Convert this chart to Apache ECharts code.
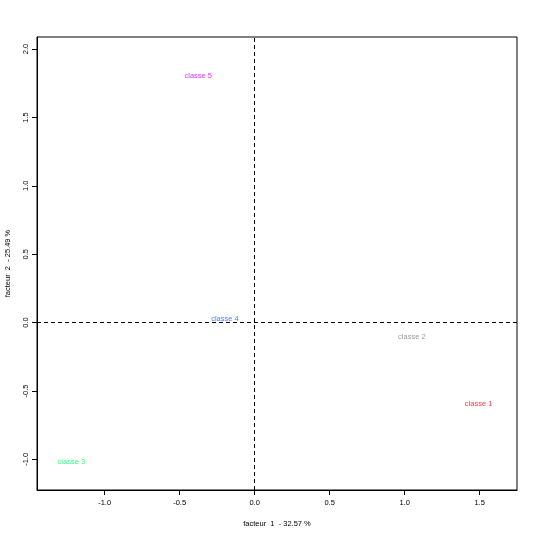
<!DOCTYPE html>
<html>
<head>
<meta charset="utf-8">
<script src="https://cdn.jsdelivr.net/npm/echarts@6/dist/echarts.min.js"></script>
<style>html,body{margin:0;padding:0;background:#fff}#c{width:537px;height:537px}</style>
</head>
<body>
<div id="c"></div>
<script>
var categories = ["classe 1", "classe 2", "classe 3", "classe 4", "classe 5"];
var factor1 = [1.493, 1.048, -1.222, -0.198, -0.376];
var factor2 = [-0.595, -0.105, -1.021, 0.027, 1.80];
var xTicks = [-1.0, -0.5, 0.0, 0.5, 1.0, 1.5];
var yTicks = [-1.0, -0.5, 0.0, 0.5, 1.0, 1.5, 2.0];
var xTitle = "facteur  1  - 32.57 %";
var yTitle = "facteur  2  - 25.49 %";

var labelColors = ["#FF0000", "#808080", "#00FF66", "#0066FF", "#CC00FF"];
var font = "Liberation Sans, Arial, sans-serif";
var fs = 7.5;

var chart = echarts.init(document.getElementById('c'), null, {renderer: 'canvas'});
var pts = categories.map(function (name, i) {
  return {
    name: name,
    value: [factor1[i], factor2[i]],
    label: {color: labelColors[i]}
  };
});
chart.setOption({
  animation: false,
  backgroundColor: '#fff',
  grid: {left: 37, right: 20, top: 37, bottom: 47, containLabel: false, outerBoundsMode: 'none',
    show: true, borderColor: '#000', borderWidth: 1, backgroundColor: 'transparent'},
  xAxis: {
    type: 'value', min: -1.451, max: 1.749,
    splitLine: {show: false},
    axisLine: {show: true, onZero: false, lineStyle: {color: '#000', width: 1}},
    axisTick: {show: true, length: 5, customValues: xTicks, lineStyle: {color: '#000'}},
    axisLabel: {customValues: xTicks, margin: 9, fontSize: fs, fontFamily: font, color: '#000',
      formatter: function (v) { return v.toFixed(1); }},
    name: xTitle, nameLocation: 'middle', nameGap: 30,
    nameTextStyle: {fontSize: fs, fontFamily: font, color: '#000'}
  },
  yAxis: {
    type: 'value', min: -1.224, max: 2.088,
    splitLine: {show: false},
    axisLine: {show: true, onZero: false, lineStyle: {color: '#000', width: 1}},
    axisTick: {show: true, length: 5, customValues: yTicks, lineStyle: {color: '#000'}},
    axisLabel: {customValues: yTicks, rotate: 90, margin: 7, fontSize: fs, fontFamily: font, color: '#000',
      formatter: function (v) { return v.toFixed(1); }},
    name: yTitle, nameLocation: 'middle', nameGap: 25, nameRotate: 90,
    nameTextStyle: {fontSize: fs, fontFamily: font, color: '#000'}
  },
  series: [{
    type: 'scatter',
    symbolSize: 0,
    data: pts,
    label: {show: true, position: 'inside', formatter: '{b}', fontSize: fs, fontFamily: font},
    markLine: {
      silent: true, symbol: 'none', label: {show: false},
      lineStyle: {type: [4, 3], color: '#000', width: 1},
      data: [{xAxis: 0}, {yAxis: 0}]
    }
  }]
});
</script>
</body>
</html>
